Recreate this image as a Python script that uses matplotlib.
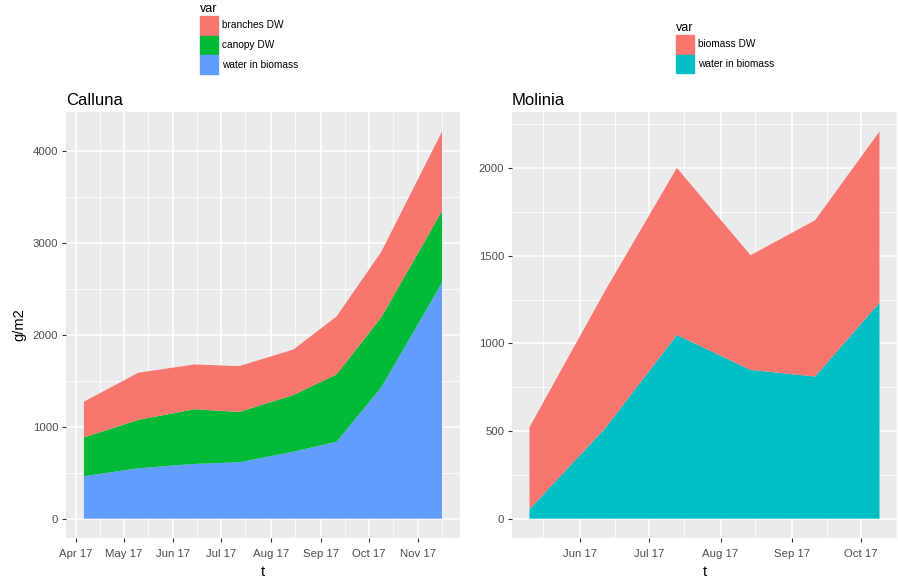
import numpy as np
import pandas as pd
import matplotlib
matplotlib.use("Agg")
import matplotlib.pyplot as plt
import matplotlib.dates as mdates
from matplotlib.patches import Patch
from matplotlib.ticker import FixedLocator

plt.rcParams['font.family'] = ['Liberation Sans', 'DejaVu Sans']

# Calluna data (g/m2)
calluna_t = pd.to_datetime(['2017-04-06', '2017-05-10', '2017-06-14', '2017-07-12',
                            '2017-08-15', '2017-09-11', '2017-10-09', '2017-11-16'])
calluna_water = [461, 548, 595, 613, 728, 836, 1427, 2566]
calluna_canopy = [422, 526, 594, 547, 616, 732, 764, 778]
calluna_branches = [389, 512, 487, 498, 494, 630, 710, 865]

# Molinia data (g/m2)
molinia_t = pd.to_datetime(['2017-05-10', '2017-06-12', '2017-07-13',
                            '2017-08-14', '2017-09-11', '2017-10-09'])
molinia_water = [54, 518, 1048, 849, 811, 1232]
molinia_biomass = [468, 786, 953, 654, 891, 977]

RED = '#F8766D'
GREEN = '#00BA38'
BLUE = '#619CFF'
CYAN = '#00BFC4'

W, H = 898, 577
fig = plt.figure(figsize=(W / 100, H / 100), dpi=100)


def ax_box(x0, y0, x1, y1):
    return [x0 / W, 1 - y1 / H, (x1 - x0) / W, (y1 - y0) / H]


def gg_style(ax, yticks, yminor, months, xminor):
    ax.set_facecolor('#EBEBEB')
    for s in ax.spines.values():
        s.set_visible(False)
    ax.yaxis.set_major_locator(FixedLocator(yticks))
    ax.yaxis.set_minor_locator(FixedLocator(yminor))
    ax.xaxis.set_major_locator(FixedLocator(mdates.date2num(pd.to_datetime(months))))
    ax.xaxis.set_minor_locator(FixedLocator(mdates.date2num(pd.to_datetime(xminor))))
    ax.xaxis.set_major_formatter(mdates.DateFormatter('%b %y'))
    ax.grid(which='major', color='white', lw=1.1)
    ax.grid(which='minor', color='white', lw=0.55)
    ax.set_axisbelow(True)
    ax.tick_params(which='major', length=3, width=0.8, color='#333333',
                   labelcolor='#4D4D4D', labelsize=8.2, pad=2.5)
    ax.tick_params(axis='x', which='major', pad=5)
    ax.tick_params(which='minor', length=0)
    ax.set_xlabel('t', fontsize=10.5, labelpad=4)


# Calluna panel
ax1 = fig.add_axes(ax_box(66, 112, 460, 538))
ax1.stackplot(calluna_t, calluna_water, calluna_canopy, calluna_branches,
              colors=[BLUE, GREEN, RED], lw=0)
gg_style(ax1, [0, 1000, 2000, 3000, 4000], [500, 1500, 2500, 3500],
         ['2017-04-01', '2017-05-01', '2017-06-01', '2017-07-01', '2017-08-01',
          '2017-09-01', '2017-10-01', '2017-11-01'],
         ['2017-03-16', '2017-04-16', '2017-05-16', '2017-06-16', '2017-07-16',
          '2017-08-16', '2017-09-16', '2017-10-16', '2017-11-16'])
ax1.set_xlim(mdates.date2num(calluna_t[0]) - 11.2, mdates.date2num(calluna_t[-1]) + 11.2)
ax1.set_ylim(-210, 4420)
ax1.set_ylabel('g/m2', fontsize=10.5, labelpad=5)
ax1.set_title('Calluna', loc='left', fontsize=12, pad=5)

# Molinia panel
ax2 = fig.add_axes(ax_box(512, 112, 897, 538))
ax2.stackplot(molinia_t, molinia_water, molinia_biomass,
              colors=[CYAN, RED], lw=0)
gg_style(ax2, [0, 500, 1000, 1500, 2000], [250, 750, 1250, 1750, 2250],
         ['2017-06-01', '2017-07-01', '2017-08-01', '2017-09-01', '2017-10-01'],
         ['2017-05-16', '2017-06-16', '2017-07-16', '2017-08-16', '2017-09-16'])
ax2.set_xlim(mdates.date2num(molinia_t[0]) - 7.6, mdates.date2num(molinia_t[-1]) + 7.6)
ax2.set_ylim(-110, 2320)
ax2.set_title('Molinia', loc='left', fontsize=12, pad=5)

# legends (ggplot style keys, ~18px squares)
leg_kw = dict(frameon=False, loc='upper left', borderpad=0, fontsize=7.3,
              title='var', title_fontsize=9, handlelength=1.8, handleheight=2.4,
              handletextpad=0.4, labelspacing=0.12, alignment='left',
              borderaxespad=0)
fig.legend(handles=[Patch(color=RED, label='branches DW'),
                    Patch(color=GREEN, label='canopy DW'),
                    Patch(color=BLUE, label='water in biomass')],
           bbox_to_anchor=(200 / W, 1 - 3 / H), **leg_kw)
fig.legend(handles=[Patch(color=RED, label='biomass DW'),
                    Patch(color=CYAN, label='water in biomass')],
           bbox_to_anchor=(676 / W, 1 - 22 / H), **leg_kw)

fig.savefig('out.png', dpi=100)
